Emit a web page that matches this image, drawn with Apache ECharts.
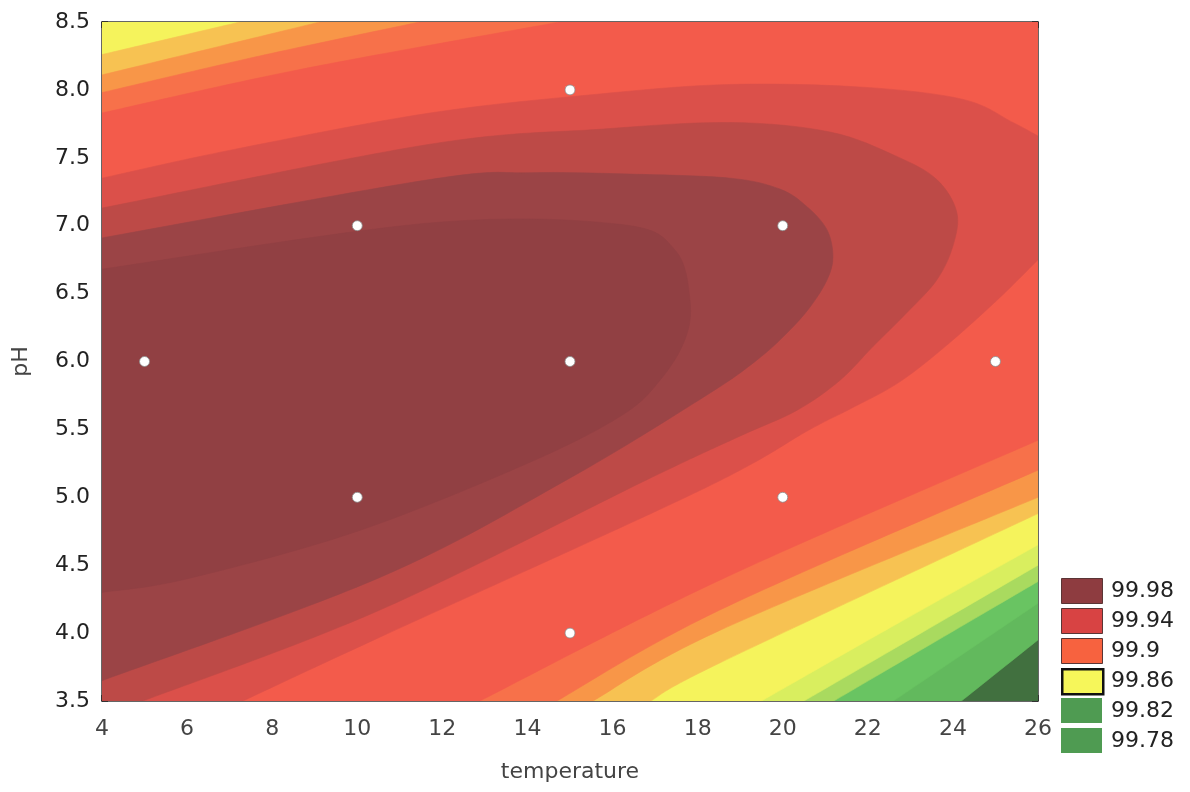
<!DOCTYPE html>
<html><head><meta charset="utf-8">
<script src="https://cdn.jsdelivr.net/npm/echarts@6/dist/echarts.min.js"></script>
<style>html,body{margin:0;padding:0;background:#fff}#c{width:1190px;height:792px}</style>
</head><body><div id="c"></div>
<script>
// ---- data ----
const xTicks = [4, 6, 8, 10, 12, 14, 16, 18, 20, 22, 24, 26];
const yTicks = [3.5, 4.0, 4.5, 5.0, 5.5, 6.0, 6.5, 7.0, 7.5, 8.0, 8.5];
const pointTemperature = [5, 10, 10, 15, 15, 15, 20, 20, 25];
const pointPH = [6, 7, 5, 8, 6, 4, 7, 5, 6];
const legendLabels = ['99.98', '99.94', '99.9', '99.86', '99.82', '99.78'];

// contour boundaries, [temperature, pH]; each polyline runs from plot edge to plot edge
const contour_1 = [[[26, 3.95], [24.2, 3.5]]];
const contour_2 = [[[26, 4.22], [22.6, 3.5]]];
const contour_3 = [[[26, 4.38], [21.2, 3.5]]];
const contour_4 = [[[26, 4.5], [20.5, 3.5]]];
const contour_5 = [[[26, 4.65], [22.75, 4.08], [19.5, 3.5]]];
const contour_6 = [[[4, 8.26], [7.24, 8.5]], [[26, 4.88], [18.52, 3.78], [16.9, 3.5]]];
const contour_7 = [[[4, 8.11], [9.12, 8.5]], [[26, 5.0], [18.52, 4.02], [15.54, 3.5]]];
const contour_8 = [[[4, 7.98], [7.71, 8.25], [11.47, 8.5]], [[26, 5.20], [18.52, 4.17], [14.69, 3.5]]];
const contour_9 = [[[4, 7.83], [8.65, 8.15], [14.76, 8.5]], [[26, 5.42], [18.52, 4.39], [12.88, 3.5]]];
const contour_10 = [
  [[4, 7.35], [7.08, 7.56], [11.71, 7.83], [15.70, 7.97], [18.76, 8.04], [21.88, 8.02], [24.24, 7.93], [25.41, 7.76], [26, 7.66]],
  [[26, 6.75], [25.10, 6.47], [23.93, 6.14], [22.75, 5.85], [21.58, 5.65], [20.64, 5.50], [18.05, 5.05], [10.53, 3.97], [7.31, 3.5]]
];
const contour_11 = [[[4, 7.13], [11.71, 7.60], [15.70, 7.71], [18.76, 7.76], [21.11, 7.69], [22.68, 7.51], [23.62, 7.34], [24.09, 7.10], [24.0, 6.85], [23.62, 6.60], [22.92, 6.36], [22.12, 6.11], [21.34, 5.86], [20.33, 5.64], [18.99, 5.45], [16.81, 5.13], [10.53, 4.17], [4.96, 3.5]]];
const contour_12 = [[[4, 6.91], [11.71, 7.34], [14.06, 7.39], [16.41, 7.38], [18.76, 7.35], [19.93, 7.27], [20.57, 7.14], [21.04, 6.97], [21.18, 6.77], [21.04, 6.60], [20.64, 6.40], [20.1, 6.21], [19.39, 6.01], [18.2, 5.75], [14.93, 5.13], [10.53, 4.41], [4, 3.65]]];
const contour_13 = [[[4, 6.68], [11.71, 7.02], [16.17, 7.01], [17.47, 6.82], [17.82, 6.45], [17.70, 6.16], [17.11, 5.86], [16.2, 5.6], [14, 5.25], [10, 4.75], [6, 4.4], [4, 4.3]]];
const contours = [contour_1, contour_2, contour_3, contour_4, contour_5, contour_6, contour_7, contour_8, contour_9, contour_10, contour_11, contour_12, contour_13];

// ---- styles ----
const bandColors = ['#41703f', '#62b95d', '#69c462', '#a9da5f', '#d9ee5f', '#f5f35c', '#f7c252', '#f89648', '#f7714a', '#f35b4b', '#db504a', '#bd4a47', '#9b4446', '#914043'];
const legendColors = ['#8e3c40', '#d84343', '#f7623f', '#f6f65a', '#4f9b52', '#4f9b52'];
const FONT = '"DejaVu Sans", "Liberation Sans", Arial, sans-serif';

const X0 = 4, X1 = 26, Y0 = 3.5, Y1 = 8.5;
const W = X1 - X0, H = Y1 - Y0, P = 2 * (W + H);
function tOf(p) {
  const e = 1e-6;
  if (Math.abs(p[1] - Y1) < e) return p[0] - X0;
  if (Math.abs(p[0] - X1) < e) return W + (Y1 - p[1]);
  if (Math.abs(p[1] - Y0) < e) return W + H + (X1 - p[0]);
  return 2 * W + H + (p[1] - Y0);
}
const corners = [[X0, Y1, 0], [X1, Y1, W], [X1, Y0, W + H], [X0, Y0, 2 * W + H]];
const md = v => ((v % P) + P) % P;
function cornersBetween(t1, t2) {
  const d = md(t2 - t1);
  return corners.map(c => ({ p: [c[0], c[1]], dd: md(c[2] - t1) }))
    .filter(c => c.dd > 0 && c.dd < d).sort((a, b) => a.dd - b.dd).map(c => c.p);
}
// region = list of pieces: curves (contour lines) and straight runs along the plot border
function buildRegion(lines) {
  const used = new Set(); const pieces = []; let cur = 0;
  while (!used.has(cur)) {
    used.add(cur);
    const L = lines[cur];
    pieces.push({ curve: true, pts: L });
    const tEnd = tOf(L[L.length - 1]);
    let best = 0, bd = Infinity;
    lines.forEach((M, j) => { const d = md(tOf(M[0]) - tEnd); if (d < bd) { bd = d; best = j; } });
    pieces.push({ curve: false, pts: cornersBetween(tEnd, tOf(lines[best][0])).concat([lines[best][0]]) });
    cur = best;
  }
  return pieces;
}
const regions = [[{ curve: false, pts: [[X0, Y1], [X1, Y1], [X1, Y0], [X0, Y0], [X0, Y1]] }]].concat(contours.map(buildRegion));

function curvePath(q) {
  let s = '';
  for (let i = 0; i < q.length - 1; i++) {
    const p0 = q[Math.max(i - 1, 0)], p1 = q[i], p2 = q[i + 1], p3 = q[Math.min(i + 2, q.length - 1)];
    const c1 = [p1[0] + (p2[0] - p0[0]) / 6, p1[1] + (p2[1] - p0[1]) / 6];
    const c2 = [p2[0] - (p3[0] - p1[0]) / 6, p2[1] - (p3[1] - p1[1]) / 6];
    s += ' C' + c1[0].toFixed(2) + ' ' + c1[1].toFixed(2) + ' ' + c2[0].toFixed(2) + ' ' + c2[1].toFixed(2) + ' ' + p2[0].toFixed(2) + ' ' + p2[1].toFixed(2);
  }
  return s;
}
function regionPath(pieces, api) {
  let d = '';
  pieces.forEach((pc, k) => {
    const q = pc.pts.map(p => api.coord(p));
    if (k === 0) d += 'M' + q[0][0].toFixed(2) + ' ' + q[0][1].toFixed(2);
    if (pc.curve) d += curvePath(q);
    else q.forEach(p => { d += ' L' + p[0].toFixed(2) + ' ' + p[1].toFixed(2); });
  });
  return d + ' Z';
}

const chart = echarts.init(document.getElementById('c'), null, { renderer: 'canvas' });
const axisCommon = {
  type: 'value', splitLine: { show: false },
  axisLine: { show: true, onZero: false, lineStyle: { color: '#333', width: 1.5 } },
  axisTick: { show: true, inside: true, length: 6, lineStyle: { color: '#222', width: 1.5 } }
};
const lgTop = 578, lgStep = 30;
const graphics = [];
legendLabels.forEach((lab, i) => {
  const y = lgTop + i * lgStep;
  graphics.push({ type: 'rect', left: 1061, top: y, shape: { width: 41, height: 25 },
    style: { fill: legendColors[i], stroke: i === 3 ? '#111' : (i < 3 ? '#5a3535' : null), lineWidth: i === 3 ? 2.5 : 1 } });
  graphics.push({ type: 'text', left: 1111, top: y + 2, style: { text: lab, fill: '#222', font: '22px ' + FONT } });
});

chart.setOption({
  animation: false,
  backgroundColor: '#fff',
  grid: { left: 102, right: 152, top: 22, bottom: 91 },
  xAxis: [
    Object.assign({}, axisCommon, { min: xTicks[0], max: xTicks[xTicks.length - 1], interval: 2, position: 'bottom',
      name: 'temperature', nameLocation: 'middle', nameGap: 60,
      nameTextStyle: { color: '#444', fontSize: 22, fontFamily: FONT },
      axisLabel: { color: '#444', fontSize: 22, fontFamily: FONT, margin: 17 } }),
    Object.assign({}, axisCommon, { min: xTicks[0], max: xTicks[xTicks.length - 1], interval: 2, position: 'top', axisLabel: { show: false } })
  ],
  yAxis: [
    Object.assign({}, axisCommon, { min: yTicks[0], max: yTicks[yTicks.length - 1], interval: 0.5, position: 'left',
      name: 'pH', nameLocation: 'middle', nameGap: 70, nameRotate: 90,
      nameTextStyle: { color: '#444', fontSize: 22, fontFamily: FONT },
      axisLabel: { color: '#222', fontSize: 22, fontFamily: FONT, margin: 12, formatter: v => v.toFixed(1) } }),
    Object.assign({}, axisCommon, { min: yTicks[0], max: yTicks[yTicks.length - 1], interval: 0.5, position: 'right', axisLabel: { show: false } })
  ],
  graphic: graphics,
  series: [
    {
      type: 'custom', silent: true, clip: true, z: 1,
      data: regions.map((r, i) => [i]),
      encode: { x: -1, y: -1 },
      renderItem: function (params, api) {
        const i = params.dataIndex;
        return { type: 'path', shape: { pathData: regionPath(regions[i], api) },
          style: { fill: bandColors[i], stroke: bandColors[i], lineWidth: 0.6 } };
      }
    },
    {
      type: 'scatter', z: 5, symbol: 'circle', symbolSize: 10,
      data: pointTemperature.map((t, i) => [t, pointPH[i]]),
      itemStyle: { color: '#ffffff', borderColor: '#8a8a8a', borderWidth: 0.8, opacity: 1 }
    }
  ]
});
</script></body></html>
